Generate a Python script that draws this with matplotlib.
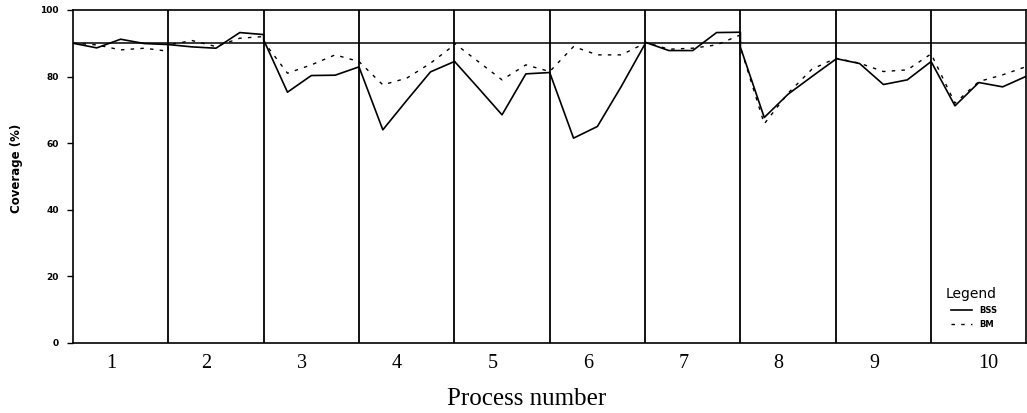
import numpy as np
import matplotlib
matplotlib.use("Agg")
import matplotlib.pyplot as plt

processes = ["1", "2", "3", "4", "5", "6", "7", "8", "9", "10"]
positions = [0.0, 0.25, 0.5, 0.75, 1.0]

bss = [
    [90.0, 88.6, 91.2, 89.9, 89.6],
    [89.6, 88.9, 88.5, 93.2, 92.6],
    [91.0, 75.3, 80.3, 80.4, 82.9],
    [82.9, 64.0, 72.8, 81.4, 84.5],
    [84.6, 76.6, 68.5, 80.8, 81.2],
    [81.2, 61.5, 65.0, 77.0, 89.8],
    [90.3, 87.8, 87.8, 93.2, 93.3],
    [88.8, 67.7, 74.7, 80.0, 85.2],
    [85.4, 83.9, 77.6, 79.0, 84.5],
    [84.5, 71.2, 78.2, 76.9, 80.1],
]
bm = [
    [90.0, 89.5, 88.0, 88.5, 87.6],
    [89.5, 90.8, 89.0, 91.5, 92.0],
    [90.5, 81.0, 83.5, 86.5, 84.5],
    [84.5, 77.5, 79.5, 84.0, 89.5],
    [90.0, 84.5, 79.0, 83.5, 81.5],
    [81.5, 89.0, 86.5, 86.5, 90.0],
    [90.3, 88.2, 88.5, 89.5, 92.5],
    [88.8, 65.8, 75.0, 82.2, 85.5],
    [85.5, 84.0, 81.5, 82.0, 86.8],
    [86.8, 72.0, 78.5, 80.5, 83.0],
]
target = 90
yticks = [0, 20, 40, 60, 80, 100]

fig = plt.figure(figsize=(10.27, 4.13), dpi=100)
ax = fig.add_axes([0.071, 0.1695, 0.9285, 0.8065])

n = len(processes)
xs = np.concatenate([i + np.array(positions) for i in range(n)])
ys_bss = np.concatenate(bss)
ys_bm = np.concatenate(bm)

ax.plot(xs, ys_bm, color="black", lw=1.0, linestyle=(0, (2.5, 4.5)), label="BM", zorder=3)
ax.plot(xs, ys_bss, color="black", lw=1.2, linestyle="-", label="BSS", zorder=4)
ax.axhline(target, color="black", lw=1.1, zorder=2)
for i in range(1, n):
    ax.axvline(i, color="black", lw=1.3, zorder=2)

ax.set_xlim(0, n)
ax.set_ylim(0, 100)
# label placement as in the scanned original (slightly left of panel centres)
label_x = [i + 0.4 for i in range(n - 1)] + [n - 0.4]
ax.set_xticks(label_x)
ax.set_xticklabels(processes, family="Liberation Serif", fontsize=14.5)
ax.tick_params(axis="x", length=0, pad=8)
ax.set_yticks(yticks)
ax.set_yticklabels([str(v) for v in yticks], fontsize=6.5, fontweight="heavy")
ax.tick_params(axis="y", length=4, width=1, direction="out", pad=6)
for s in ax.spines.values():
    s.set_linewidth(1.2)

fig.text(0.513, 0.02, "Process number", family="Liberation Serif", fontsize=18,
         ha="center", va="baseline")
ax.set_ylabel("Coverage (%)", fontsize=8.5, fontweight="heavy")
ax.yaxis.set_label_coords(-0.052, 0.525)

h, l = ax.get_legend_handles_labels()
leg = ax.legend(h[::-1], l[::-1], title="Legend", loc="lower right",
                bbox_to_anchor=(0.977, 0.02), frameon=False,
                prop={"size": 6, "weight": "heavy"}, handlelength=2.6,
                title_fontsize=10, labelspacing=0.6)
leg._legend_box.align = "right"

fig.savefig("out.png", dpi=100)
